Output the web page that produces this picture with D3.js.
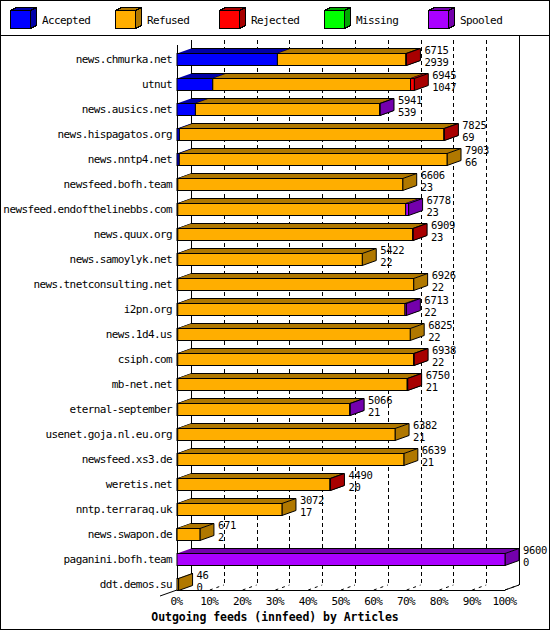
<!DOCTYPE html>
<html><head><meta charset="utf-8">
<script src="https://cdn.jsdelivr.net/npm/d3@7"></script>
<style>
body{margin:0;background:#fff;}
svg{display:block;}
text{font-family:"DejaVu Sans Mono",monospace;font-size:11px;letter-spacing:-0.6px;fill:#000;}
text.val{font-size:10.5px;letter-spacing:-0.3px;}
</style></head>
<body>
<svg id="c" width="550" height="630"></svg>
<script>
const hosts = ["news.chmurka.net","utnut","news.ausics.net","news.hispagatos.org","news.nntp4.net","newsfeed.bofh.team","newsfeed.endofthelinebbs.com","news.quux.org","news.samoylyk.net","news.tnetconsulting.net","i2pn.org","news.1d4.us","csiph.com","mb-net.net","eternal-september","usenet.goja.nl.eu.org","newsfeed.xs3.de","weretis.net","nntp.terraraq.uk","news.swapon.de","paganini.bofh.team","ddt.demos.su"];
const accepted = [2939,1047,539,69,66,23,23,23,22,22,22,22,22,21,21,21,21,20,17,2,0,0];
const refused  = [3761,5788,5390,7744,7837,6583,6670,6874,5400,6904,6651,6803,6904,6717,5033,6361,6618,4458,3055,669,0,46];
const rejected = [15,110,0,12,0,0,0,12,0,0,0,0,12,12,0,0,0,12,0,0,0,0];
const missing  = [0,0,0,0,0,0,0,0,0,0,0,0,0,0,0,0,0,0,0,0,0,0];
const spooled  = [0,0,12,0,0,0,85,0,0,0,40,0,0,0,12,0,0,0,0,0,9600,0];
const seriesNames = ["Accepted","Refused","Rejected","Missing","Spooled"];
const frontColors = ["#0000ff","#ffae00","#ff0000","#00ff00","#aa00ff"];
const darkColors  = ["#0000a8","#b07800","#a80000","#00a800","#7400ac"];
const pctTicks = [0,10,20,30,40,50,60,70,80,90,100];
const title = "Outgoing feeds (innfeed) by Articles";

const series = [accepted,refused,rejected,missing,spooled];
const totals = hosts.map((h,i)=>series.reduce((s,a)=>s+a[i],0));
const maxTotal = d3.max(totals);

const svg = d3.select("#c").attr("shape-rendering","crispEdges");
const W=550,H=630, DX=14, DY=5, BH=12;
const x = d3.scaleLinear().domain([0,100]).range([177,505]);
const y = d3.scalePoint().domain(hosts).range([59,584]);
const pct = v => v/maxTotal*100;
const floorY = 590, topY = 40;

// outer border
svg.append("rect").attr("x",0.5).attr("y",0.5).attr("width",W-1).attr("height",H-1)
  .attr("fill","#fff").attr("stroke","#000");
svg.append("line").attr("x1",0).attr("x2",W).attr("y1",35.5).attr("y2",35.5).attr("stroke","#000");

// legend
const lg = svg.append("g");
seriesNames.forEach((n,i)=>{
  const lx = 10 + i*104.5, ly = 10;
  const g = lg.append("g").attr("transform",`translate(${Math.round(lx)+0.5},${ly+0.5})`);
  g.append("polygon").attr("points","0,0 6,-3 26,-3 20,0").attr("fill",darkColors[i]).attr("stroke","#000");
  g.append("polygon").attr("points","20,0 26,-3 26,15 20,18").attr("fill",darkColors[i]).attr("stroke","#000");
  g.append("rect").attr("x",0).attr("y",0).attr("width",20).attr("height",18).attr("fill",frontColors[i]).attr("stroke","#000");
  lg.append("text").attr("x",Math.round(lx)+32).attr("y",24).text(n);
});

// back walls / gridlines
const grid = svg.append("g");
pctTicks.forEach(t=>{
  const gx = Math.round(x(t)+DX)+0.5;
  const solid = (t===0||t===100);
  grid.append("line").attr("x1",gx).attr("x2",gx)
    .attr("y1", t===100?36:topY).attr("y2", floorY-DY)
    .attr("stroke","#000").attr("stroke-dasharray", solid?null:"4,3");
});
// floor
grid.append("line").attr("x1",160).attr("y1",596).attr("x2",x(0)+DX).attr("y2",floorY-DY).attr("stroke","#000").attr("shape-rendering","auto");
pctTicks.filter(t=>t>0).forEach(t=>{
  grid.append("line").attr("x1",x(t)).attr("y1",floorY).attr("x2",x(t)+DX).attr("y2",floorY-DY)
   .attr("stroke","#000").attr("stroke-dasharray","3,4").attr("shape-rendering","auto");
});
grid.append("line").attr("x1",x(100)).attr("y1",floorY).attr("x2",x(100)+DX).attr("y2",floorY-DY).attr("stroke","#000").attr("shape-rendering","auto");
grid.append("line").attr("x1",x(0)).attr("x2",x(100)).attr("y1",floorY+0.5).attr("y2",floorY+0.5).attr("stroke","#000");
// front left wall
grid.append("line").attr("x1",x(0)+0.5).attr("x2",x(0)+0.5).attr("y1",topY+DY).attr("y2",floorY).attr("stroke","#000");

// bars
const bars = svg.append("g");
hosts.forEach((h,i)=>{
  const c = y(h);
  const top = Math.round(c-6)+0.5, bot = top+BH;
  const g = bars.append("g");
  let acc = 0;
  const segs = [];
  series.forEach((arr,k)=>{
    const v = arr[i];
    if(v<=0) return;
    segs.push({k, x0:x(pct(acc)), x1:x(pct(acc+v))});
    acc += v;
  });
  segs.forEach(s=>{
    g.append("polygon").attr("points",`${s.x0},${top} ${s.x0+DX},${top-DY} ${s.x1+DX},${top-DY} ${s.x1},${top}`)
      .attr("fill",darkColors[s.k]).attr("stroke","none").attr("shape-rendering","auto");
    g.append("polygon").attr("points",`${s.x1},${top} ${s.x1+DX},${top-DY} ${s.x1+DX},${bot-DY} ${s.x1},${bot}`)
      .attr("fill",darkColors[s.k]).attr("stroke","#000").attr("shape-rendering","auto");
    g.append("rect").attr("x",s.x0).attr("y",top).attr("width",Math.max(0,s.x1-s.x0)).attr("height",BH)
      .attr("fill",frontColors[s.k]).attr("stroke","#000").attr("shape-rendering","auto");
  });
  const end = x(pct(totals[i]));
  g.append("line").attr("x1",x(0)+DX).attr("x2",end+DX).attr("y1",top-DY).attr("y2",top-DY).attr("stroke","#000");
  g.append("text").attr("class","val").attr("x",end+DX+4).attr("y",c-5.5).text(totals[i]);
  g.append("text").attr("class","val").attr("x",end+DX+4).attr("y",c+7).text(accepted[i]);
});

// axes
const xAxis = d3.axisBottom(x).tickValues(pctTicks).tickFormat(d=>d+"%").tickSize(0).tickPadding(7);
const xg = svg.append("g").attr("transform",`translate(-1,${floorY})`).call(xAxis);
xg.select(".domain").remove();
xg.selectAll("text").attr("font-family",null).attr("font-size",null);

const yAxis = d3.axisLeft(y).tickSize(0).tickPadding(5);
const yg = svg.append("g").attr("transform",`translate(${x(0)},0)`).call(yAxis);
yg.select(".domain").remove();
yg.selectAll("text").attr("font-family",null).attr("font-size",null);

svg.append("text").attr("x",W/2).attr("y",621).attr("text-anchor","middle")
  .style("font-weight","bold").style("font-size","11.5px").style("letter-spacing","-0.05px").text(title);
</script>
</body></html>
